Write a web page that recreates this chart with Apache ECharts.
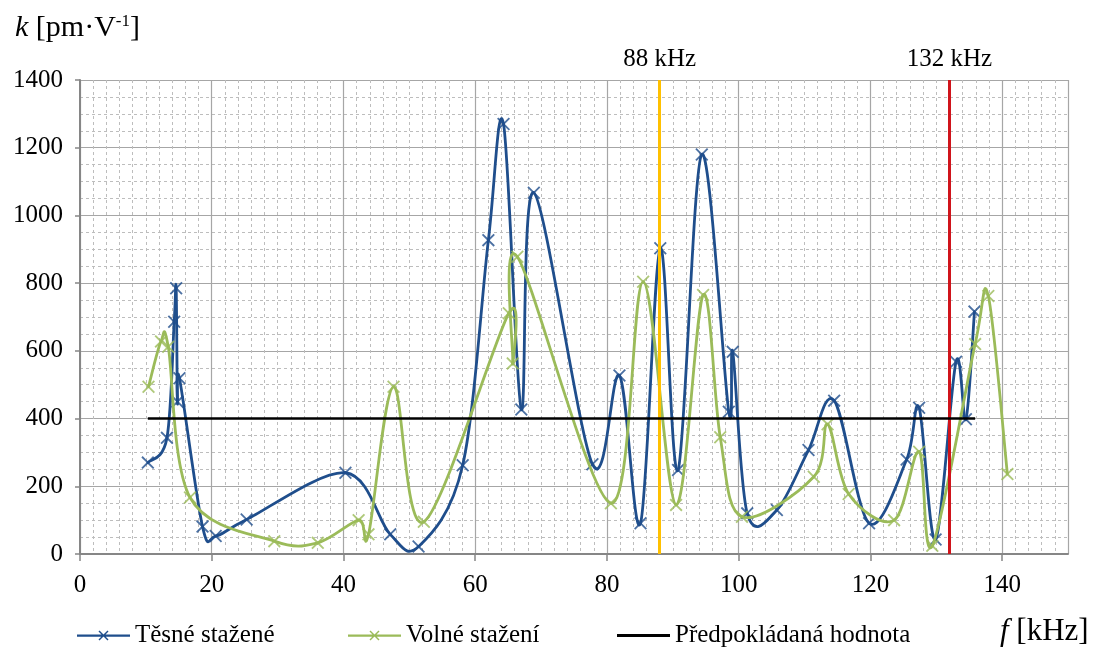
<!DOCTYPE html>
<html><head><meta charset="utf-8">
<script src="https://cdn.jsdelivr.net/npm/echarts@6/dist/echarts.min.js"></script>
<style>html,body{margin:0;padding:0;background:#fff}#c{width:1098px;height:648px}</style>
</head><body><div id="c"></div>
<script>
// ---- data ----
const seriesNames = ['Těsné stažené', 'Volné stažení', 'Předpokládaná hodnota'];
const tightF = [10.3, 13.2, 14.3, 14.6, 14.8, 15.1, 18.6, 20.6, 25.3, 40.3, 47.1, 51.4, 58.1, 62.0, 64.3, 67.0, 68.9, 77.8, 81.9, 85.1, 88.1, 90.8, 94.4, 98.5, 99.1, 101.3, 105.8, 110.6, 114.5, 119.8, 125.5, 127.4, 129.9, 133.0, 134.5, 135.8];
const tightK = [270, 343, 686, 785, 450, 519, 81, 53, 102, 240, 58, 22, 262, 927, 1270, 427, 1067, 265, 527, 91, 903, 248, 1180, 420, 597, 120, 130, 307, 453, 91, 279, 432, 43, 568, 398, 716];
const looseF = [10.4, 12.3, 13.4, 16.7, 29.5, 36.1, 42.3, 43.8, 47.6, 52.2, 65.1, 65.7, 66.4, 80.6, 85.5, 90.5, 94.6, 97.2, 100.5, 111.4, 113.5, 116.7, 123.6, 127.4, 129.4, 135.9, 137.9, 140.8];
const looseK = [494, 628, 612, 167, 38, 33, 100, 58, 494, 95, 711, 563, 878, 150, 804, 145, 765, 345, 110, 228, 383, 177, 100, 302, 24, 620, 762, 236];
const expectedF = [10.3, 135.9];
const expectedK = [400, 400];
const markerFreqs = [88, 132];
const markerLabels = ['88 kHz', '132 kHz'];
const markerColors = ['#FFC000', '#D0141B'];
const xMin = 0, xMax = 150, xStep = 20, xMinorStep = 2;
const yMin = 0, yMax = 1400, yStep = 200;

const zip = (a, b) => a.map((v, i) => [v, b[i]]);
const FONT = 'Liberation Serif';
const xPath = 'path://M1,0L5,4L9,0L10,1L6,5L10,9L9,10L5,6L1,10L0,9L4,5L0,1Z';
const linePath = 'path://M0,0L53,0L53,3L0,3Z';
const comboPath = 'path://M0,5L53,5L53,7.2L0,7.2Z M22.5,1L26.5,5L30.5,1L31.5,2L27.5,6L31.5,10L30.5,11L26.5,7L22.5,11L21.5,10L25.5,6L21.5,2Z';
const BLUE = '#1F4E8C', GREEN = '#9BBB59';
const LW = 2.8;

// Excel-like smoothed segment (Catmull-Rom style Bezier, pixel space)
function smoothRenderer(xs, ys, color) {
  return function (params, api) {
    const i = params.dataIndex;
    const n = xs.length;
    if (i >= n - 1) return null;
    const P = k => api.coord([xs[Math.max(0, Math.min(n - 1, k))], ys[Math.max(0, Math.min(n - 1, k))]]);
    const p0 = P(i - 1), p1 = P(i), p2 = P(i + 1), p3 = P(i + 2);
    const t = 1 / 6;
    return {
      type: 'bezierCurve',
      shape: {
        x1: p1[0], y1: p1[1], x2: p2[0], y2: p2[1],
        cpx1: p1[0] + (p2[0] - p0[0]) * t, cpy1: p1[1] + (p2[1] - p0[1]) * t,
        cpx2: p2[0] - (p3[0] - p1[0]) * t, cpy2: p2[1] - (p3[1] - p1[1]) * t
      },
      style: { stroke: color, lineWidth: LW, fill: null, lineJoin: 'round', lineCap: 'round' }
    };
  };
}

const chart = echarts.init(document.getElementById('c'));
chart.setOption({
  animation: false,
  backgroundColor: '#fff',
  textStyle: { fontFamily: FONT },
  title: [
    { text: '{i|k} [pm·V{sup|-1}]', left: 10, top: 8,
      textStyle: { fontFamily: FONT, fontSize: 30, fontWeight: 'normal', color: '#000',
        rich: { i: { fontFamily: FONT, fontSize: 30, fontStyle: 'italic', color: '#000' },
                sup: { fontFamily: FONT, fontSize: 17, color: '#000', padding: [0, 0, 14, 0] } } } },
    { text: '{i|f} [kHz]', left: 995, top: 611,
      textStyle: { fontFamily: FONT, fontSize: 31, fontWeight: 'normal', color: '#000',
        rich: { i: { fontFamily: FONT, fontSize: 31, fontStyle: 'italic', color: '#000' } } } }
  ],
  grid: { left: 80, right: 30, top: 80, bottom: 94, containLabel: false },
  legend: [
    { data: [{ name: seriesNames[0], icon: comboPath }], left: 72, top: 618, itemWidth: 53, itemHeight: 12,
      textStyle: { fontFamily: FONT, fontSize: 25, color: '#000' } },
    { data: [{ name: seriesNames[1], icon: comboPath }], left: 343, top: 618, itemWidth: 53, itemHeight: 12,
      textStyle: { fontFamily: FONT, fontSize: 25, color: '#000' } },
    { data: [{ name: seriesNames[2], icon: linePath }], left: 612, top: 618, itemWidth: 53, itemHeight: 3,
      textStyle: { fontFamily: FONT, fontSize: 25, color: '#000' } }
  ],
  xAxis: [
    { type: 'value', position: 'bottom', min: xMin, max: xMax, interval: xMinorStep,
      axisLine: { show: false }, axisTick: { show: false }, axisLabel: { show: false },
      splitLine: { show: true, lineStyle: { color: '#BDBDBD', type: [3, 3], width: 1 } } },
    { type: 'value', position: 'bottom', offset: 0, min: xMin, max: xMax, interval: xStep,
      axisLine: { show: true, onZero: false, lineStyle: { color: '#868686', width: 2 } },
      axisTick: { show: true, inside: false, length: 7, lineStyle: { color: '#868686', width: 1.5 } },
      axisLabel: { show: true, showMaxLabel: false, margin: 19, fontFamily: FONT, fontSize: 25, color: '#000',
                   formatter: v => String(v) },
      splitLine: { show: true, lineStyle: { color: '#A6A6A6', width: 1.2 } } }
  ],
  yAxis: {
    type: 'value', min: yMin, max: yMax, interval: yStep,
    axisLine: { show: true, lineStyle: { color: '#868686', width: 2 } },
    axisTick: { show: true, inside: false, length: 5, lineStyle: { color: '#868686', width: 1.5 } },
    axisLabel: { margin: 17, fontFamily: FONT, fontSize: 25, color: '#000', formatter: v => String(v) },
    splitLine: { show: true, lineStyle: { color: '#A6A6A6', width: 1.2 } },
    minorTick: { show: false, splitNumber: 4 },
    minorSplitLine: { show: true, lineStyle: { color: '#BDBDBD', type: [3, 3], width: 1 } }
  },
  series: [
    { name: 'markers', type: 'line', xAxisIndex: 1, data: [], z: 1, silent: true,
      markLine: {
        symbol: 'none', silent: true, animation: false,
        data: markerFreqs.map((f, i) => ({
          xAxis: f,
          lineStyle: { color: markerColors[i], width: 3, type: 'solid' },
          label: { show: true, position: 'end', formatter: markerLabels[i], distance: 8,
                   fontFamily: FONT, fontSize: 25, color: '#000' }
        }))
      } },
    { name: seriesNames[0], type: 'custom', xAxisIndex: 1, data: zip(tightF, tightK),
      renderItem: smoothRenderer(tightF, tightK, BLUE), itemStyle: { color: BLUE }, clip: false, z: 3 },
    { name: seriesNames[0], type: 'scatter', xAxisIndex: 1, data: zip(tightF, tightK),
      symbol: xPath, symbolSize: 13, itemStyle: { color: BLUE }, z: 3 },
    { name: seriesNames[1], type: 'custom', xAxisIndex: 1, data: zip(looseF, looseK),
      renderItem: smoothRenderer(looseF, looseK, GREEN), itemStyle: { color: GREEN }, clip: false, z: 4 },
    { name: seriesNames[1], type: 'scatter', xAxisIndex: 1, data: zip(looseF, looseK),
      symbol: xPath, symbolSize: 13, itemStyle: { color: GREEN }, z: 4 },
    { name: seriesNames[2], type: 'line', xAxisIndex: 1, data: zip(expectedF, expectedK),
      symbol: 'none', lineStyle: { color: '#000', width: 2.5 }, itemStyle: { color: '#000' }, z: 5 }
  ]
});
</script></body></html>
